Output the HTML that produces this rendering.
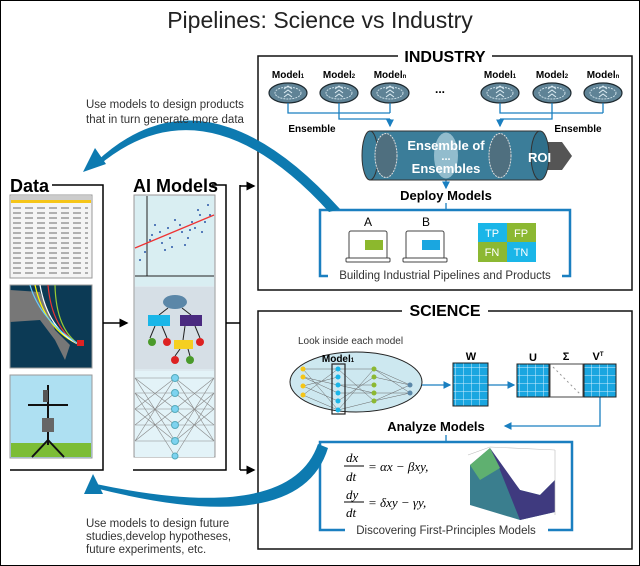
<!DOCTYPE html>
<html><head><meta charset="utf-8"><style>
html,body{margin:0;padding:0;background:#fff}
svg{display:block;font-family:"Liberation Sans",sans-serif}
</style></head><body>
<svg width="640" height="566" viewBox="0 0 640 566" xmlns="http://www.w3.org/2000/svg">
<defs>
<marker id="ab" markerWidth="6" markerHeight="6" refX="5" refY="3" orient="auto"><path d="M0,0 L6,3 L0,6Z" fill="#000"/></marker>
<marker id="au" markerWidth="6" markerHeight="6" refX="5" refY="3" orient="auto"><path d="M0,0 L6,3 L0,6Z" fill="#1a7fc0"/></marker>
<pattern id="grid" width="8" height="8" patternUnits="userSpaceOnUse"><rect width="8" height="8" fill="#1aa6e0"/><path d="M8,0V8M0,8H8" stroke="#cfefff" stroke-width="1"/></pattern>
<g id="mdl"><ellipse cx="0" cy="0" rx="19" ry="10" fill="#5f8396" stroke="#1e2a30" stroke-width="1.2"/><ellipse cx="0" cy="0" rx="13" ry="6" fill="none" stroke="#c9dde6" stroke-width="1" stroke-dasharray="2 1"/><path d="M-4,-4L0,-7L4,-4M-4,0L0,-3L4,0M-4,4L0,1L4,4" stroke="#dfeef5" fill="none"/></g>
</defs>
<rect x="0.5" y="0.5" width="639" height="565" fill="none" stroke="#000"/>
<text x="320" y="28" text-anchor="middle" font-size="23" fill="#222">Pipelines: Science vs Industry</text>

<!-- Data -->
<text x="10" y="192" font-size="18" font-weight="bold">Data</text>
<path d="M52,185H103V470H10" fill="none" stroke="#000" stroke-width="1.5"/>
<rect x="10" y="195" width="82" height="83" fill="#f4f4f4" stroke="#999"/>
<rect x="11" y="196" width="80" height="4" fill="#ccc"/><rect x="11" y="200" width="80" height="3" fill="#f5c518"/>
<g stroke="#888" stroke-width="1.2" fill="none">
<path d="M13,208H88M13,213H88M13,218H88M13,223H88M13,228H88M13,233H88M13,238H88M13,243H88M13,248H88M13,253H88M13,258H88M13,263H88M13,268H88M13,273H88" stroke-dasharray="8 4"/></g>
<rect x="10" y="285" width="82" height="83" fill="#0c3a55" stroke="#999"/>
<path d="M10,290 L40,292 L55,330 L70,345 L65,360 L55,340 L40,320 L10,322Z" fill="#777"/>
<g fill="none" stroke-width="1.2"><path d="M35,285 Q45,330 80,345" stroke="#ff0"/><path d="M40,285 Q48,330 80,345" stroke="#fff"/><path d="M48,285 Q52,330 80,345" stroke="#e33"/><path d="M55,285 Q56,330 80,345" stroke="#9c3"/><path d="M30,285 Q40,320 80,345" stroke="#6cf"/></g>
<rect x="77" y="340" width="7" height="6" fill="#d22"/>
<rect x="10" y="375" width="82" height="83" fill="#aee0f2" stroke="#999"/>
<rect x="11" y="443" width="80" height="14" fill="#7cbd35"/>
<path d="M28,405H68M48,385V445M48,440L32,457M48,440L64,457" stroke="#111" stroke-width="2" fill="none"/>
<rect x="42" y="418" width="12" height="14" fill="#666"/><rect x="43" y="390" width="5" height="12" fill="#555"/>

<!-- AI Models -->
<text x="133" y="192" font-size="18" font-weight="bold">AI Models</text>
<path d="M212,185H226V470H133" fill="none" stroke="#000" stroke-width="1.5"/>
<rect x="134" y="195" width="81" height="262" fill="#dde9ef" stroke="#999"/>
<rect x="135" y="196" width="79" height="90" fill="#d9eef2"/>
<path d="M147,196V276M135,276H214" stroke="#222" fill="none"/>
<path d="M135,248L214,215" stroke="#e33" stroke-width="1.3"/>
<g fill="#2b58a8"><circle cx="150" cy="240" r="1"/><circle cx="160" cy="232" r="1"/><circle cx="170" cy="238" r="1"/><circle cx="180" cy="225" r="1"/><circle cx="190" cy="230" r="1"/><circle cx="200" cy="215" r="1"/><circle cx="208" cy="205" r="1"/><circle cx="165" cy="250" r="1"/><circle cx="175" cy="220" r="1"/><circle cx="185" cy="245" r="1"/><circle cx="195" cy="228" r="1"/><circle cx="140" cy="260" r="1"/><circle cx="155" cy="225" r="1"/><circle cx="205" cy="222" r="1"/><circle cx="152" cy="235" r="1"/><circle cx="162" cy="243" r="1"/><circle cx="172" cy="247" r="1"/><circle cx="182" cy="232" r="1"/><circle cx="192" cy="222" r="1"/><circle cx="202" cy="232" r="1"/><circle cx="210" cy="215" r="1"/><circle cx="145" cy="252" r="1"/><circle cx="168" cy="228" r="1"/><circle cx="188" cy="238" r="1"/><circle cx="198" cy="210" r="1"/></g>
<rect x="135" y="287" width="79" height="82" fill="#d6dfe6"/>
<ellipse cx="175" cy="302" rx="12" ry="7" fill="#5b87a8"/>
<path d="M168,308L159,315M182,308L191,315M155,326L150,338M162,326L167,338M185,326L183,340M195,326L200,338M180,349L175,356M188,349L190,356" stroke="#222" fill="none"/>
<rect x="148" y="315" width="22" height="11" fill="#1ab6e8"/><rect x="180" y="315" width="22" height="11" fill="#4a2a80"/>
<rect x="174" y="340" width="19" height="9" fill="#f5cf20"/>
<circle cx="152" cy="342" r="4" fill="#4a9a2a"/><circle cx="167" cy="342" r="4" fill="#d22"/><circle cx="200" cy="342" r="4" fill="#d22"/><circle cx="175" cy="360" r="4" fill="#d22"/><circle cx="190" cy="360" r="4" fill="#4a9a2a"/>
<rect x="135" y="371" width="79" height="86" fill="#e3f3f8"/>
<g stroke="#888" stroke-width="0.6" fill="none">
<path d="M135,378L175,378L214,378M135,393L175,393L214,393M135,409L175,409L214,409M135,425L175,425L214,425M135,441L175,441L214,441M135,378L175,441M135,441L175,378M214,378L175,441M214,441L175,378M135,393L175,425M135,425L175,393M214,393L175,425M214,425L175,393M135,378L175,409M135,409L175,378M214,378L175,409M214,409L175,378M135,409L175,441M135,441L175,409M214,409L175,441M214,441L175,409M135,393L175,456M214,393L175,456"/></g>
<g fill="#7dd3f0" stroke="#5ab"><circle cx="175" cy="378" r="3.5"/><circle cx="175" cy="393" r="3.5"/><circle cx="175" cy="409" r="3.5"/><circle cx="175" cy="425" r="3.5"/><circle cx="175" cy="441" r="3.5"/><circle cx="175" cy="456" r="3"/></g>

<!-- connectors -->
<path d="M103,323H127" stroke="#000" stroke-width="1.5" marker-end="url(#ab)"/>
<path d="M226,323H240M240,185V470" stroke="#000" stroke-width="1.5" fill="none"/>
<path d="M240,186H254" stroke="#000" stroke-width="1.5" marker-end="url(#ab)"/>
<path d="M240,470H254" stroke="#000" stroke-width="1.5" marker-end="url(#ab)"/>

<!-- INDUSTRY -->
<rect x="258" y="56" width="374" height="234" fill="none" stroke="#111" stroke-width="1.5"/>
<rect x="398" y="48" width="94" height="16" fill="#fff"/>
<text x="445" y="62" text-anchor="middle" font-size="16" font-weight="bold">INDUSTRY</text>
<g font-size="10" font-weight="bold" text-anchor="middle">
<text x="288" y="78">Model<tspan font-size="6">1</tspan></text><text x="339" y="78">Model<tspan font-size="6">2</tspan></text><text x="390" y="78">Model<tspan font-size="6">n</tspan></text>
<text x="500" y="78">Model<tspan font-size="6">1</tspan></text><text x="552" y="78">Model<tspan font-size="6">2</tspan></text><text x="603" y="78">Model<tspan font-size="6">n</tspan></text>
<text x="312" y="132">Ensemble</text><text x="578" y="132">Ensemble</text>
</g>
<text x="440" y="93" text-anchor="middle" font-size="12" font-weight="bold">...</text>
<use href="#mdl" x="288" y="93"/><use href="#mdl" x="339" y="93"/><use href="#mdl" x="390" y="93"/>
<use href="#mdl" x="500" y="93"/><use href="#mdl" x="552" y="93"/><use href="#mdl" x="603" y="93"/>
<g stroke="#1a7fc0" stroke-width="1.3" fill="none">
<path d="M288,103V113H390M339,103V119H390M390,103V113"/><path d="M390,119V126" marker-end="url(#au)"/>
<path d="M500,103V113H603M552,103V119H500M603,103V113"/><path d="M500,119V126" marker-end="url(#au)"/>
<path d="M446,180V188" marker-end="url(#au)"/>
<path d="M446,203V210"/>
<path d="M397,210H320V276H328M490,210H570V276H562" stroke-width="2.5"/>
<path d="M397,210H490" stroke-width="2.5"/>
</g>
<path d="M525,142H562L572,156L562,170H525Z" fill="#555"/>
<rect x="370" y="131" width="170" height="49" fill="#3b7d99" stroke="#333"/>
<ellipse cx="370" cy="155.5" rx="8" ry="24.5" fill="#3b7d99" stroke="#333"/>
<ellipse cx="540" cy="155.5" rx="9" ry="24.5" fill="#2f6f8a" stroke="#333"/>
<ellipse cx="386" cy="155.5" rx="11" ry="22" fill="#4f6f7f" stroke="#ddd" stroke-dasharray="2 1"/>
<ellipse cx="500" cy="155.5" rx="11" ry="22" fill="#4f6f7f" stroke="#ddd" stroke-dasharray="2 1"/>
<ellipse cx="446" cy="155.5" rx="12" ry="23" fill="#a9ccd9" opacity="0.8"/>
<text x="446" y="150" text-anchor="middle" font-size="13" font-weight="bold" fill="#fff">Ensemble of</text>
<text x="446" y="160" text-anchor="middle" font-size="11" font-weight="bold" fill="#fff">...</text>
<text x="446" y="173" text-anchor="middle" font-size="13" font-weight="bold" fill="#fff">Ensembles</text>
<text x="528" y="162" font-size="13" font-weight="bold" fill="#fff">ROI</text>
<text x="446" y="200" text-anchor="middle" font-size="13" font-weight="bold">Deploy Models</text>
<g font-size="12" text-anchor="middle"><text x="368" y="226">A</text><text x="426" y="226">B</text></g>
<g stroke="#444" fill="#fff"><rect x="349" y="231" width="38" height="28" rx="2"/><rect x="406" y="231" width="38" height="28" rx="2"/><rect x="346" y="258" width="44" height="4" rx="1"/><rect x="403" y="258" width="44" height="4" rx="1"/></g>
<rect x="365" y="240" width="18" height="10" fill="#8cb82d"/><rect x="422" y="240" width="18" height="10" fill="#1aa6e0"/>
<rect x="478" y="223" width="29" height="19" fill="#1ab6e8"/><rect x="507" y="223" width="29" height="19" fill="#8cb832"/>
<rect x="478" y="242" width="29" height="20" fill="#8cb832"/><rect x="507" y="242" width="29" height="20" fill="#1ab6e8"/>
<g font-size="11" fill="#fff" text-anchor="middle"><text x="492" y="237">TP</text><text x="521" y="237">FP</text><text x="492" y="256">FN</text><text x="521" y="256">TN</text></g>
<rect x="330" y="268" width="230" height="14" fill="#fff"/>
<text x="445" y="279" text-anchor="middle" font-size="11.5" fill="#333">Building Industrial Pipelines and Products</text>

<!-- SCIENCE -->
<rect x="258" y="311" width="374" height="238" fill="none" stroke="#111" stroke-width="1.5"/>
<rect x="402" y="302" width="86" height="16" fill="#fff"/>
<text x="445" y="316" text-anchor="middle" font-size="16" font-weight="bold">SCIENCE</text>
<text x="298" y="344" font-size="10" fill="#333">Look inside each model</text>
<ellipse cx="356" cy="382" rx="66" ry="30" fill="#cde8f0" stroke="#222"/>
<g stroke="#666" stroke-width="0.5" fill="none"><path d="M303,369L338,369L374,369L410,385M303,377L338,385L374,393L410,393M303,386L338,401L374,377L410,385M303,395L338,410L374,401L410,393M303,369L338,410M303,395L338,369M338,369L374,401M338,410L374,369M374,369L410,393M374,401L410,385M303,377L338,393M303,386L338,377M338,385L374,385M338,393L374,393"/></g>
<rect x="332" y="364" width="13" height="50" fill="none" stroke="#222" stroke-width="1.2"/>
<g fill="#f5c518"><circle cx="303" cy="369" r="2.5"/><circle cx="303" cy="377" r="2.5"/><circle cx="303" cy="386" r="2.5"/><circle cx="303" cy="395" r="2.5"/></g>
<g fill="#1ab6e8"><circle cx="338" cy="369" r="2.5"/><circle cx="338" cy="377" r="2.5"/><circle cx="338" cy="385" r="2.5"/><circle cx="338" cy="393" r="2.5"/><circle cx="338" cy="401" r="2.5"/><circle cx="338" cy="410" r="2.5"/></g>
<g fill="#8cb832"><circle cx="374" cy="369" r="2.5"/><circle cx="374" cy="377" r="2.5"/><circle cx="374" cy="385" r="2.5"/><circle cx="374" cy="393" r="2.5"/><circle cx="374" cy="401" r="2.5"/></g>
<g fill="#5b87a8"><circle cx="410" cy="385" r="2.5"/><circle cx="410" cy="393" r="2.5"/></g>
<text x="338" y="362" text-anchor="middle" font-size="10" font-weight="bold">Model<tspan font-size="6">1</tspan></text>
<g stroke="#1a7fc0" stroke-width="1.3" fill="none">
<path d="M422,385H450" marker-end="url(#au)"/><path d="M488,385H514" marker-end="url(#au)"/>
<path d="M600,397V426H505" marker-end="url(#au)"/>
<path d="M446,435V442"/>
<path d="M398,442H320V530H345M494,442H572V530H548" stroke-width="2.5"/><path d="M398,442H494" stroke-width="2.5"/>
</g>
<rect x="453" y="363" width="35" height="43" fill="url(#grid)" stroke="#222"/>
<rect x="517" y="364" width="32" height="33" fill="url(#grid)" stroke="#222"/>
<rect x="550" y="364" width="33" height="33" fill="#fff" stroke="#444"/>
<path d="M553,367L580,394" stroke="#999" stroke-dasharray="2 3"/>
<rect x="584" y="364" width="32" height="33" fill="url(#grid)" stroke="#222"/>
<g font-size="11" font-weight="bold" text-anchor="middle"><text x="471" y="360">W</text><text x="533" y="361">U</text><text x="566" y="360">Σ</text><text x="598" y="360">V<tspan font-size="6" dy="-4">T</tspan></text></g>
<text x="436" y="431" text-anchor="middle" font-size="13" font-weight="bold">Analyze Models</text>
<g font-family="Liberation Serif,serif" font-style="italic" font-size="13">
<text x="346" y="462">dx</text><path d="M344,466H364" stroke="#000"/><text x="346" y="481">dt</text>
<text x="368" y="471">= αx − βxy,</text>
<text x="346" y="499">dy</text><path d="M344,502H364" stroke="#000"/><text x="346" y="517">dt</text>
<text x="368" y="507">= δxy − γy,</text>
</g>
<path d="M470,465L490,448L500,465L520,490L540,495L555,480L555,512L520,520L470,505Z" fill="#3a7e8e"/>
<path d="M490,448L500,470L510,495L520,520L555,512L555,480L540,495L520,490Z" fill="#3f3a7f"/>
<path d="M470,465L490,448L500,468L480,480Z" fill="#5fb070"/>
<path d="M468,455L490,447L555,450M555,450V515" stroke="#bbb" fill="none" stroke-width="0.6"/>
<rect x="350" y="523" width="195" height="14" fill="#fff"/>
<text x="446" y="534" text-anchor="middle" font-size="11.5" fill="#333">Discovering First-Principles Models</text>

<!-- blue arcs -->
<path d="M96,162 Q205,60 340,209 L329,212 Q205,76 98,166Z" fill="#0d7ab0"/>
<path d="M83,172 L95,148 L106,164Z" fill="#0d7ab0"/>
<path d="M328,448 Q300,540 95,488 L96,484 Q290,525 318,444Z" fill="#0d7ab0"/>
<path d="M84,494 L93,474 L103,494Z" fill="#0d7ab0"/>

<g font-size="11.5" fill="#333">
<text x="86" y="108">Use models to design products</text>
<text x="86" y="123">that in turn generate more data</text>
<text x="86" y="527">Use models to design future</text>
<text x="86" y="540">studies,develop hypotheses,</text>
<text x="86" y="553">future experiments, etc.</text>
</g>
</svg>
</body></html>
